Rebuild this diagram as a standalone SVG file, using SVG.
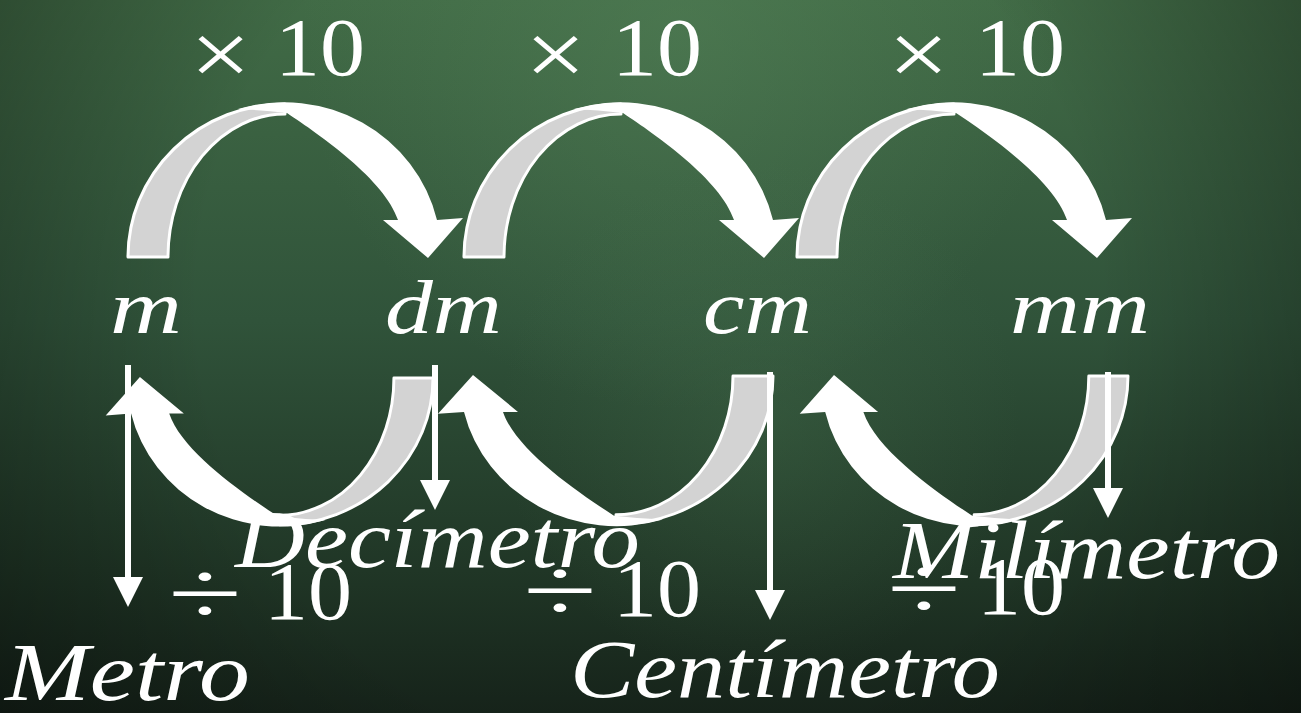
<svg xmlns="http://www.w3.org/2000/svg" xmlns:xlink="http://www.w3.org/1999/xlink" width="1301" height="713" viewBox="0 0 1301 713">
  <defs>
    <linearGradient id="bgBase" x1="0" y1="0" x2="0" y2="1">
      <stop offset="0" stop-color="#416b46"/>
      <stop offset="0.45" stop-color="#30533a"/>
      <stop offset="0.8" stop-color="#203626"/>
      <stop offset="1" stop-color="#16231a"/>
    </linearGradient>
    <radialGradient id="bgGlow" cx="680" cy="30" r="380" gradientUnits="userSpaceOnUse">
      <stop offset="0" stop-color="#5a895e" stop-opacity="0.4"/>
      <stop offset="1" stop-color="#5a895e" stop-opacity="0"/>
    </radialGradient>
    <radialGradient id="bgGlow2" cx="760" cy="420" r="260" gradientUnits="userSpaceOnUse">
      <stop offset="0" stop-color="#4a7550" stop-opacity="0.3"/>
      <stop offset="1" stop-color="#4a7550" stop-opacity="0"/>
    </radialGradient>
    <radialGradient id="bgVignette" cx="650" cy="300" r="820" gradientUnits="userSpaceOnUse">
      <stop offset="0.55" stop-color="#000" stop-opacity="0"/>
      <stop offset="1" stop-color="#000" stop-opacity="0.4"/>
    </radialGradient>
    <marker id="head" markerUnits="userSpaceOnUse" viewBox="0 0 30 30" markerWidth="30" markerHeight="30" refX="2" refY="15" orient="auto">
      <path d="M0,0 L30,15 L0,30 Z" fill="#ffffff"/>
    </marker>
    <g id="curveArrow">
      <path class="back" d="M128,257 A157,153 0 0 1 285,104 L285,114 A117,143 0 0 0 168,257 Z"/>
      <path class="front" d="M238,109 A157,153 0 0 1 437,220 L463,218 L428,258 L383,220 L398,220 C385,180 320,135 287,113 Q262,110 238,109 Z"/>
    </g>
  </defs>
  <style>
    .back { fill: #d3d3d3; stroke: #ffffff; stroke-width: 3; stroke-linejoin: round; }
    .front { fill: #ffffff; }
    .vline { stroke: #ffffff; stroke-width: 6; fill: none; marker-end: url(#head); }
    .op { font-family: "Liberation Serif", "DejaVu Serif", serif; font-size: 82px; fill: #ffffff; }
    .sym { font-family: "Liberation Serif", "DejaVu Serif", serif; font-size: 92px; fill: #ffffff; }
    .unit { font-family: "Liberation Serif", "DejaVu Serif", serif; font-style: italic; font-size: 76px; fill: #ffffff; }
    .name { font-family: "Liberation Serif", "DejaVu Serif", serif; font-style: italic; font-size: 82px; fill: #ffffff; }
  </style>

  <rect x="0" y="0" width="1301" height="713" fill="url(#bgBase)"/>
  <rect x="0" y="0" width="1301" height="713" fill="url(#bgGlow)"/>
  <rect x="0" y="0" width="1301" height="713" fill="url(#bgGlow2)"/>
  <rect x="0" y="0" width="1301" height="713" fill="url(#bgVignette)"/>

  <g id="connectors">
    <use xlink:href="#curveArrow" href="#curveArrow"/>
    <use xlink:href="#curveArrow" href="#curveArrow" transform="translate(336,0)"/>
    <use xlink:href="#curveArrow" href="#curveArrow" transform="translate(669,0)"/>
    <use xlink:href="#curveArrow" href="#curveArrow" transform="translate(433,378) scale(-0.977,-0.96) translate(-128,-257)"/>
    <use xlink:href="#curveArrow" href="#curveArrow" transform="translate(773,376) scale(-1,-0.97) translate(-128,-257)"/>
    <use xlink:href="#curveArrow" href="#curveArrow" transform="translate(1128,376) scale(-0.98,-0.97) translate(-128,-257)"/>
    <path class="vline" d="M128,365 L128,579"/>
    <path class="vline" d="M435,365 L435,482"/>
    <path class="vline" d="M770,372 L770,592"/>
    <path class="vline" d="M1108,372 L1108,490"/>
  </g>

  <g id="op-times-1">
    <text class="sym" x="190" y="85" textLength="61" lengthAdjust="spacingAndGlyphs">×</text>
    <text class="op" x="275" y="75" textLength="90" lengthAdjust="spacingAndGlyphs">10</text>
  </g>
  <g id="op-times-2">
    <text class="sym" x="525" y="85" textLength="61" lengthAdjust="spacingAndGlyphs">×</text>
    <text class="op" x="612" y="75" textLength="90" lengthAdjust="spacingAndGlyphs">10</text>
  </g>
  <g id="op-times-3">
    <text class="sym" x="888" y="85" textLength="61" lengthAdjust="spacingAndGlyphs">×</text>
    <text class="op" x="975" y="75" textLength="90" lengthAdjust="spacingAndGlyphs">10</text>
  </g>

  <g id="node-m"><text class="unit" x="110" y="333" textLength="72" lengthAdjust="spacingAndGlyphs">m</text></g>
  <g id="node-dm"><text class="unit" x="385" y="333" textLength="117" lengthAdjust="spacingAndGlyphs">dm</text></g>
  <g id="node-cm"><text class="unit" x="703" y="333" textLength="109" lengthAdjust="spacingAndGlyphs">cm</text></g>
  <g id="node-mm"><text class="unit" x="1010" y="333" textLength="140" lengthAdjust="spacingAndGlyphs">mm</text></g>

  <g id="op-div-1">
    <text class="sym" x="168" y="624" textLength="74" lengthAdjust="spacingAndGlyphs">÷</text>
    <text class="op" x="264" y="619" textLength="88" lengthAdjust="spacingAndGlyphs">10</text>
  </g>
  <g id="op-div-2">
    <text class="sym" x="523" y="621" textLength="74" lengthAdjust="spacingAndGlyphs">÷</text>
    <text class="op" x="613" y="616" textLength="88" lengthAdjust="spacingAndGlyphs">10</text>
  </g>
  <g id="op-div-3">
    <text class="sym" x="887" y="619" textLength="74" lengthAdjust="spacingAndGlyphs">÷</text>
    <text class="op" x="977" y="614" textLength="88" lengthAdjust="spacingAndGlyphs">10</text>
  </g>

  <g id="name-metro"><text class="name" x="5" y="700" textLength="245" lengthAdjust="spacingAndGlyphs">Metro</text></g>
  <g id="name-decimetro"><text class="name" x="235" y="567" textLength="405" lengthAdjust="spacingAndGlyphs">Decímetro</text></g>
  <g id="name-centimetro"><text class="name" x="570" y="697" textLength="430" lengthAdjust="spacingAndGlyphs">Centímetro</text></g>
  <g id="name-milimetro"><text class="name" x="893" y="578" textLength="387" lengthAdjust="spacingAndGlyphs">Milímetro</text></g>
</svg>
